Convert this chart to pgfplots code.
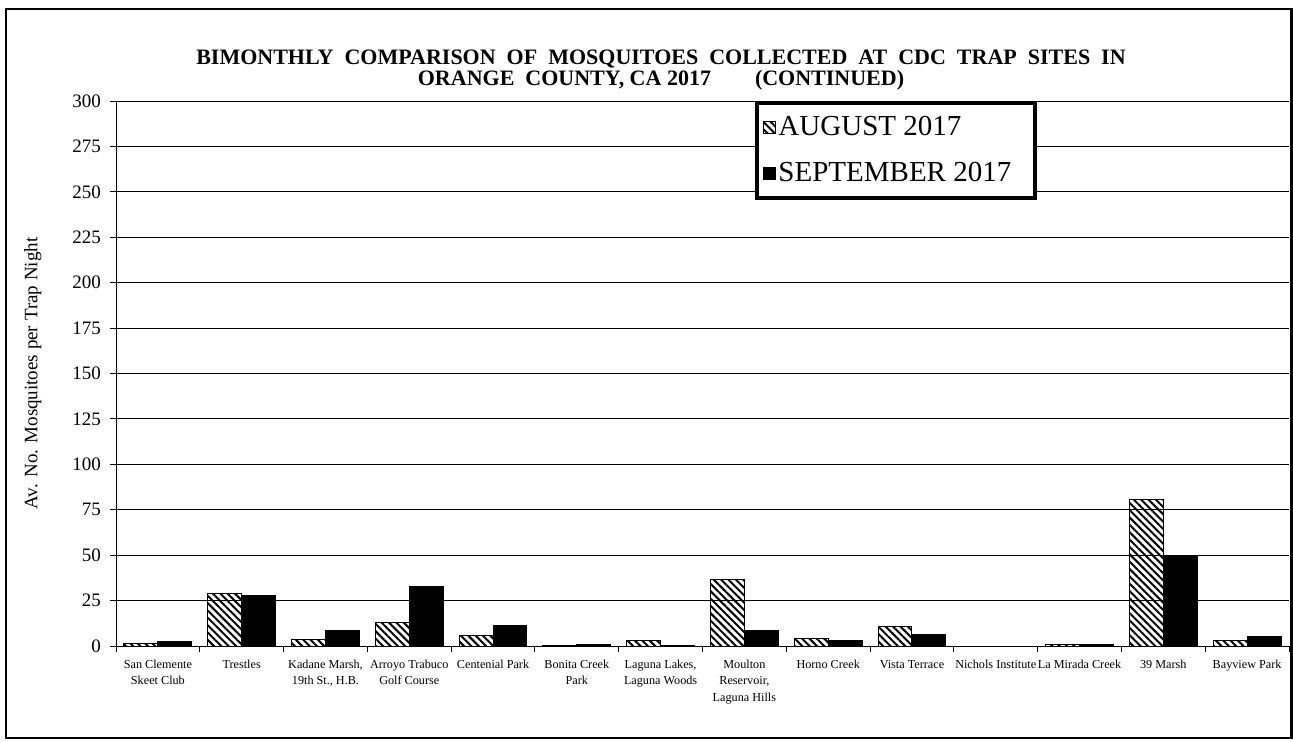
\documentclass[border=0pt]{standalone}
\usepackage{fontspec}
\setmainfont{Liberation Serif}
\usepackage{pgfplots}
\pgfplotsset{compat=1.18}
\usetikzlibrary{patterns.meta}
\begin{document}
\begin{tikzpicture}[font=\rmfamily]
\path[use as bounding box] (0,0) rectangle (646.5pt,370.5pt);
\draw[line width=1.2pt] (3pt,1.5pt) rectangle (645.8pt,366pt);
\node[font=\rmfamily\bfseries\fontsize{11}{10.2}\selectfont, align=center] at (330.5pt,335.5pt)
  {BIMONTHLY\ \ COMPARISON\ \ OF\ \ MOSQUITOES\ \ COLLECTED\ \ AT\ \ CDC\ \ TRAP\ \ SITES\ \ IN\\[0pt]
   ORANGE\ \ COUNTY,\ CA\ 2017\qquad(CONTINUED)};
\begin{axis}[
  at={(58pt,47.5pt)}, anchor=south west,
  scale only axis, width=586.5pt, height=272.5pt,
  ybar=0pt, bar width=0.405,
  xmin=-0.5, xmax=13.5, ymin=0, ymax=300,
  ytick={0,25,...,300},
  axis lines*=left,
  axis line style={line width=0.5pt},
  ymajorgrids, grid style={black, line width=0.5pt},
  tick align=outside, major tick length=3pt,
  tick style={black, line width=0.5pt},
  /pgf/number format/assume math mode=true,
  yticklabel style={font=\rmfamily\fontsize{9.5}{10}\selectfont, xshift=-1pt},
  xtick={-0.5,0.5,...,13.5}, xticklabels={},
  extra x ticks={0,...,13},
  extra x tick style={major tick length=0pt},
  extra x tick labels={{San Clemente\\Skeet Club},Trestles,{Kadane Marsh,\\19th St., H.B.},{Arroyo Trabuco\\Golf Course},Centenial Park,{Bonita Creek\\Park},{Laguna Lakes,\\Laguna Woods},{Moulton\\Reservoir,\\Laguna Hills},Horno Creek,Vista Terrace,Nichols Institute,La Mirada Creek,39 Marsh,Bayview Park},
  xticklabel style={font=\rmfamily\fontsize{6.1}{8.2}\selectfont, align=center, yshift=-3.5pt},
  ylabel={Av. No. Mosquitoes per Trap Night},
  ylabel style={font=\rmfamily\fontsize{9.5}{10}\selectfont, at={(axis description cs:-0.071,0.5)}, anchor=center},
  legend style={at={(0.545,1.0)}, anchor=north west, draw=black, line width=2pt,
    font=\rmfamily\fontsize{14.5}{15}\selectfont, inner xsep=3pt, inner ysep=4.5pt, row sep=8pt,
    /tikz/every odd column/.append style={column sep=-0.8pt}},
  legend cell align=left,
  legend image code/.code={\draw[#1, line width=0.4pt] (0pt,-3pt) rectangle (6pt,3pt);},
]
\addplot[draw=black, line width=0.5pt, pattern={Lines[angle=-45, distance=2.6pt, line width=1pt]}] coordinates {
(0,1.5) (1,29) (2,3.7) (3,13.2) (4,5.9) (5,0.2) (6,3.1) (7,36.7) (8,3.9) (9,10.8) (10,0) (11,0.9) (12,80.5) (13,2.9)};
\addplot[draw=black, fill=black, line width=0.5pt] coordinates {
(0,2.4) (1,28) (2,8.3) (3,32.7) (4,11.2) (5,0.9) (6,0.4) (7,8.6) (8,3.3) (9,6.4) (10,0) (11,0.9) (12,49) (13,5.1)};
\legend{AUGUST 2017\hspace*{7pt}, SEPTEMBER 2017\hspace*{7pt}}
\end{axis}
\end{tikzpicture}
\end{document}
